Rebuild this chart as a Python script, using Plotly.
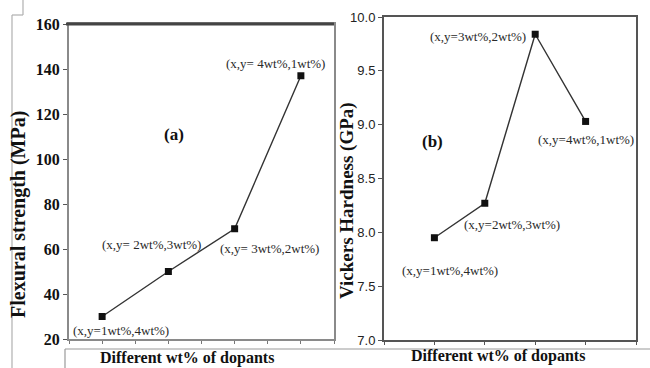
import plotly.graph_objects as go

# ---- data ----
positions = [1, 2, 3, 4]
flexural_strength = [30, 50, 69, 137]          # MPa, panel (a)
vickers_hardness = [7.95, 8.27, 9.84, 9.03]    # GPa, panel (b)
labels_a = ["(x,y=1wt%,4wt%)", "(x,y= 2wt%,3wt%)", "(x,y= 3wt%,2wt%)", "(x,y= 4wt%,1wt%)"]
labels_b = ["(x,y=1wt%,4wt%)", "(x,y=2wt%,3wt%)", "(x,y=3wt%,2wt%)", "(x,y=4wt%,1wt%)"]
yticks_a = [20, 40, 60, 80, 100, 120, 140, 160]
yticks_b = [7.0, 7.5, 8.0, 8.5, 9.0, 9.5, 10.0]
xtitle = "Different wt% of dopants"
ytitle_a = "Flexural strength (MPa)"
ytitle_b = "Vickers Hardness (GPa)"

W, H = 650, 368
def px(x):
    return x / W
def py(y):
    return (H - y) / H

SERIF = "Liberation Serif, Times New Roman, serif"
NARROW = "Liberation Sans Narrow, Liberation Sans, Arial, sans-serif"

fig = go.Figure()
fig.add_trace(go.Scatter(x=positions, y=flexural_strength, mode="lines+markers",
                         line=dict(color="#333333", width=1.4),
                         marker=dict(symbol="square", size=7, color="#111111"),
                         xaxis="x", yaxis="y", showlegend=False, hoverinfo="skip"))
fig.add_trace(go.Scatter(x=positions, y=vickers_hardness, mode="lines+markers",
                         line=dict(color="#333333", width=1.4),
                         marker=dict(symbol="square", size=7, color="#111111"),
                         xaxis="x2", yaxis="y2", showlegend=False, hoverinfo="skip"))

fig.update_layout(
    width=W, height=H,
    margin=dict(l=0, r=0, t=0, b=0, autoexpand=False),
    paper_bgcolor="white", plot_bgcolor="white",
    xaxis=dict(domain=[px(69), px(334)], range=[0.5, 4.5], tickvals=[0.5, 1, 1.5, 2, 2.5, 3, 3.5, 4, 4.5],
               showticklabels=False, ticks="outside", ticklen=3, tickcolor="#777",
               showline=True, linecolor="#8a8a8a", linewidth=2, mirror=True,
               showgrid=False, zeroline=False, anchor="y", automargin=False),
    yaxis=dict(domain=[py(339), py(24)], range=[20, 160], tickvals=yticks_a,
               ticks="outside", ticklen=4, tickcolor="#555",
               tickfont=dict(family=SERIF, size=16, color="#111", weight="bold"),
               showline=True, linecolor="#8a8a8a", linewidth=2, mirror=True,
               showgrid=False, zeroline=False, anchor="x", automargin=False),
    xaxis2=dict(domain=[px(384), px(636)], range=[0, 5], tickvals=[0, 1, 2, 3, 4, 5],
                showticklabels=False, ticks="outside", ticklen=3, tickcolor="#555",
                showline=True, linecolor="#555555", linewidth=2, mirror=True,
                showgrid=False, zeroline=False, anchor="y2", automargin=False),
    yaxis2=dict(domain=[py(340), py(17)], range=[7.0, 10.0], tickvals=yticks_b,
                ticktext=[f"{v:.1f}" for v in yticks_b],
                ticks="outside", ticklen=4, tickcolor="#555",
                tickfont=dict(family=NARROW, size=13, color="#222"),
                showline=True, linecolor="#555555", linewidth=2, mirror=True,
                showgrid=False, zeroline=False, anchor="x2", automargin=False),
)

# thick dark top border of panel (a)
fig.add_shape(type="line", xref="paper", yref="paper", x0=px(66), x1=px(334), y0=py(24), y1=py(24),
              line=dict(color="#444", width=3))
# box around x-axis titles and left bracket (artifacts of the original figure)
fig.add_shape(type="line", xref="paper", yref="paper", x0=px(65), x1=1, y0=py(349), y1=py(349),
              line=dict(color="#9a9a9a", width=1.2))
fig.add_shape(type="line", xref="paper", yref="paper", x0=px(65), x1=px(65), y0=py(349), y1=0,
              line=dict(color="#9a9a9a", width=1.2))
fig.add_shape(type="line", xref="paper", yref="paper", x0=px(12), x1=px(12), y0=py(15), y1=0,
              line=dict(color="#b0b0b0", width=1.2))
fig.add_shape(type="line", xref="paper", yref="paper", x0=px(12), x1=px(23), y0=py(15), y1=py(15),
              line=dict(color="#b0b0b0", width=1.2))
fig.add_shape(type="line", xref="paper", yref="paper", x0=px(23), x1=px(23), y0=1, y1=py(15),
              line=dict(color="#b0b0b0", width=1.2))

ann = []
C = dict(showarrow=False, xanchor="center", yanchor="middle")
# point labels panel (a)
pos_a = [(1.29, 24), (1.74, 61.8), (3.52, 60.4), (3.62, 142.5)]
for (x, y), t in zip(pos_a, labels_a):
    ann.append(dict(x=x, y=y, xref="x", yref="y", text=t,
                    font=dict(family=SERIF, size=13, color="#2a2a2a"), **C))
# point labels panel (b)
pos_b = [(1.31, 7.65), (2.54, 8.07), (1.87, 9.82), (4.0, 8.86)]
for (x, y), t in zip(pos_b, labels_b):
    ann.append(dict(x=x, y=y, xref="x2", yref="y2", text=t,
                    font=dict(family=SERIF, size=13, color="#2a2a2a"), **C))
ann.append(dict(x=2.08, y=110.7, xref="x", yref="y", text="<b>(a)</b>",
                font=dict(family=SERIF, size=17, color="#111"), **C))
ann.append(dict(x=0.97, y=8.84, xref="x2", yref="y2", text="<b>(b)</b>",
                font=dict(family=SERIF, size=17, color="#111"), **C))
# axis titles
ann.append(dict(x=px(18), y=py(215), xref="paper", yref="paper", text=f"<b>{ytitle_a}</b>",
                textangle=-90, font=dict(family=SERIF, size=20, color="#111"), **C))
ann.append(dict(x=px(347), y=py(201), xref="paper", yref="paper", text=f"<b>{ytitle_b}</b>",
                textangle=-90, font=dict(family=SERIF, size=19, color="#111"), **C))
ann.append(dict(x=px(187), y=py(358), xref="paper", yref="paper", text=f"<b>{xtitle}</b>",
                font=dict(family=SERIF, size=16, color="#111"), **C))
ann.append(dict(x=px(498), y=py(356), xref="paper", yref="paper", text=f"<b>{xtitle}</b>",
                font=dict(family=SERIF, size=16, color="#111"), **C))
fig.update_layout(annotations=ann)

fig.write_html("out.html", config={"displayModeBar": False},
               post_script="document.body.style.margin='0';document.body.style.overflow='hidden';")
